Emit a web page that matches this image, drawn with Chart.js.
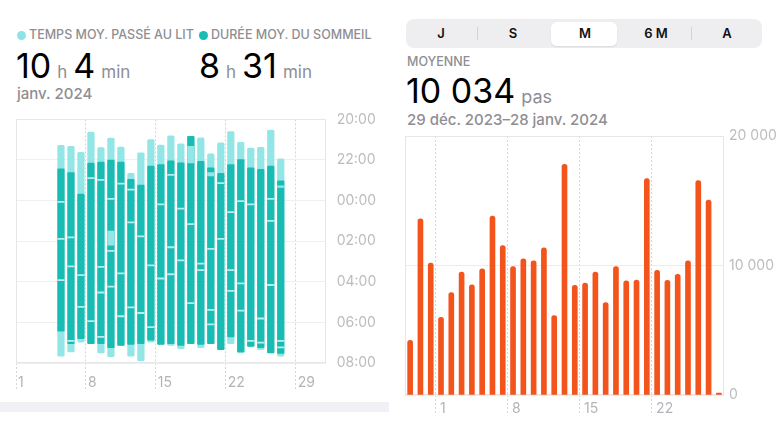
<!DOCTYPE html>
<html lang="fr">
<head>
<meta charset="utf-8">
<script src="https://cdn.jsdelivr.net/npm/chart.js@4.4.1/dist/chart.umd.min.js"></script>
<style>
  html, body { margin: 0; padding: 0; background: #fff; }
  body { width: 780px; height: 435px; position: relative; overflow: hidden; font-family: Inter, "Noto Sans", sans-serif; }
  .abs { position: absolute; white-space: nowrap; }
  .cap { font-size: 12.5px; font-weight: 500; color: #8e8e93; line-height: 14px; display: flex; align-items: center; }
  .dot { width: 9px; height: 9px; border-radius: 50%; margin-right: 3px; }
  .row { display: flex; align-items: baseline; line-height: 34px; }
  .num { font-size: 34px; color: #000; }
  .unit { font-size: 17px; color: #8e8e93; margin: 0 6px; }
  .sub { font-size: 15px; font-weight: 500; color: #8e8e93; line-height: 18px; }
  #seg { left: 406px; top: 19px; width: 356px; height: 29px; background: #eeeef0; border-radius: 8px; }
  #seg .sel { position: absolute; left: 145px; top: 2.5px; width: 66px; height: 24px; background: #fff; border-radius: 6px; box-shadow: 0 1px 2px rgba(0,0,0,0.08); }
  #seg .lab { position: absolute; top: 0; line-height: 29px; font-size: 13px; font-weight: 600; color: #111; transform: translateX(-50%); }
  #seg .sep { position: absolute; top: 8px; width: 1px; height: 13px; background: #d4d4d8; }
  canvas { position: absolute; }
</style>
</head>
<body>

<!-- left panel header -->
<div class="abs cap" style="left:17px; top:28px;"><span class="dot" style="background:#8ee3e6"></span>TEMPS MOY. PASSÉ AU LIT</div>
<div class="abs cap" style="left:199px; top:28px;"><span class="dot" style="background:#1bbcb3"></span>DURÉE MOY. DU SOMMEIL</div>
<div class="abs row" style="left:16px; top:49px;"><span class="num">10</span><span class="unit">h</span><span class="num">4</span><span class="unit">min</span></div>
<div class="abs row" style="left:199px; top:49px;"><span class="num">8</span><span class="unit">h</span><span class="num">31</span><span class="unit">min</span></div>
<div class="abs sub" style="left:17px; top:85px;">janv. 2024</div>
<div class="abs" style="left:0; top:402px; width:389px; height:10px; background:#f0f0f5;"></div>

<!-- right panel header -->
<div class="abs" id="seg">
  <div class="sel"></div>
  <div class="sep" style="left:71px"></div>
  <div class="sep" style="left:285px"></div>
  <div class="lab" style="left:35px">J</div>
  <div class="lab" style="left:107px">S</div>
  <div class="lab" style="left:179px">M</div>
  <div class="lab" style="left:250px">6 M</div>
  <div class="lab" style="left:321px">A</div>
</div>
<div class="abs cap" style="left:407px; top:55px;">MOYENNE</div>
<div class="abs row" style="left:406px; top:74px;"><span class="num">10 034</span><span class="unit" style="font-size:18px">pas</span></div>
<div class="abs sub" style="left:407px; top:111px;">29 déc. 2023–28 janv. 2024</div>

<canvas id="sleep" style="left:0; top:100px;"></canvas>
<canvas id="steps" style="left:390px; top:120px;"></canvas>

<script>
// ============================
// DATA : sommeil (janv. 2024)
// ============================
const sleepDays = ['1','2','3','4','5','6','7','8','9','10','11','12','13','14','15','16',
  '17','18','19','20','21','22','23','24','25','26','27','28','29','30','31'];
const sleepTickDays = ['1','8','15','22','29'];
const hourTicks = ['20:00','22:00','00:00','02:00','04:00','06:00','08:00'];

// hours after 20:00
const nights = ['5','6','7','8','9','10','11','12','13','14','15','16','17','18','19','20',
  '21','22','23','24','25','26','27'];
const bedStart = [1.28,1.33,1.62,0.63,1.39,0.92,1.36,2.66,1.65,1.0,1.26,0.81,1.2,0.84,0.91,1.69,1.15,0.6,1.13,1.41,1.38,0.52,1.94];
const bedEnd = [11.66,11.45,10.97,11.05,11.5,11.69,11.13,11.66,11.89,10.98,11.08,11.14,11.29,11.05,11.24,11.05,11.34,11.05,11.5,11.18,11.34,11.5,11.66];
const sleepStart = [2.43,2.62,3.68,2.15,2.1,2.01,2.1,2.95,3.24,2.3,2.22,2.04,2.14,0.84,2.06,2.38,2.66,2.22,1.98,2.38,2.46,2.3,3.03];
const sleepEnd = [10.43,11.05,10.8,11.05,11.05,11.24,11.13,11.08,11.05,10.88,11.08,11.05,11.13,11.05,11.08,11.05,11.34,10.72,11.45,11.18,11.24,11.5,11.53];
// short wake-ups (thin lines)
const wakeMarks = [
  [4.03,5.86,7.89],[5.78,7.21,10.88],[7.64,9.21],[2.87,9.91],[2.95,7.24,8.5,10.69],
  [3.89,6.45,8.21],[3.14,7.56,9.67],[3.43,5.05,9.23],[5.73,9.51],[7.16,10.2],
  [4.16,7.81],[2.7,6.27,7.6],[4.37,6.92],[5.13,9.02],[7.08,7.4],[6.35,9.35,10.07],
  [3.11,5.86],[4.54,7.4,8.42],[4.0,8.05,9.39],[4.16,10.88],[9.78,10.97],[3.89,4.97,8.13],[10.88,11.2]
];
// longer awake periods
const awakeNights = ['10','18','20','27'];
const awakeFrom = [5.5,1.33,2.62,3.27];
const awakeTo = [6.2,2.14,2.79,3.35];

// ============================
// DATA : pas
// ============================
const stepDays = ['29','30','31','1','2','3','4','5','6','7','8','9','10','11','12','13',
  '14','15','16','17','18','19','20','21','22','23','24','25','26','27','28'];
const stepTickDays = ['1','8','15','22'];
const steps = [4230,13600,10180,6000,7900,9490,8510,9740,13820,11540,9920,10510,10360,11360,6130,17820,
  8460,8640,9490,7130,9920,8820,8870,16720,9620,8850,9310,10360,16560,15050,150];
const stepTicks = ['0','10 000','20 000'];

// ============================
// HELPERS
// ============================
const framePlugin = {
  id: 'frame',
  beforeDatasetsDraw(chart) {
    const { ctx, chartArea: a } = chart;
    ctx.save();
    ctx.strokeStyle = '#e6e6e8';
    ctx.lineWidth = 1;
    ctx.strokeRect(Math.round(a.left) + 0.5, Math.round(a.top) + 0.5,
      Math.round(a.width) - 1, Math.round(a.height) - 1);
    ctx.restore();
  }
};

const tickFont = { family: 'Inter', size: 14 };
const lineFor = (labels, shown) => c => shown.includes(labels[c.index]) ? '#d6d6da' : 'rgba(0,0,0,0)';

function sizeCanvas(id, w, h) {
  const el = document.getElementById(id);
  el.style.width = w + 'px';
  el.style.height = h + 'px';
  el.width = w;
  el.height = h;
  return el;
}

// ============================
// SLEEP CHART
// ============================
const marks = [];
wakeMarks.forEach((list, i) => list.forEach(t => marks.push({ x: nights[i], y: [t, t + 0.055] })));

const sleepEl = sizeCanvas('sleep', 390, 302);
new Chart(sleepEl, {
  type: 'bar',
  data: {
    labels: sleepDays,
    datasets: [
      {
        label: 'marks',
        data: marks,
        backgroundColor: '#b4efed',
        barThickness: 6.6, grouped: false, order: 0
      },
      {
        label: 'awake',
        data: awakeNights.map((d, i) => ({ x: d, y: [awakeFrom[i], awakeTo[i]] })),
        backgroundColor: '#93e6e6',
        barThickness: 6.6, grouped: false, order: 1
      },
      {
        label: 'sommeil',
        data: nights.map((d, i) => ({ x: d, y: [sleepStart[i], sleepEnd[i]] })),
        backgroundColor: '#19bcb2',
        barThickness: 6.6, grouped: false, order: 2,
        borderRadius: 1, borderSkipped: false
      },
      {
        label: 'au lit',
        data: nights.map((d, i) => ({ x: d, y: [bedStart[i], bedEnd[i]] })),
        backgroundColor: '#93e6e6',
        barThickness: 6.6, grouped: false, order: 3,
        borderRadius: 1.5, borderSkipped: false
      }
    ]
  },
  options: {
    responsive: false,
    animation: false,
    layout: { padding: { left: 16, top: 16, right: 0, bottom: 0 } },
    plugins: { legend: { display: false }, tooltip: { enabled: false } },
    scales: {
      x: {
        grid: {
          offset: true, color: lineFor(sleepDays, sleepTickDays), tickColor: lineFor(sleepDays, sleepTickDays),
          tickLength: 27, tickBorderDash: [2, 2]
        },
        border: { display: false, dash: [2, 2] },
        ticks: {
          autoSkip: false, maxRotation: 0, align: 'start', labelOffset: -3, padding: -16,
          color: '#b4b4b8', font: tickFont,
          callback: (v, i) => sleepTickDays.includes(sleepDays[i]) ? sleepDays[i] : ''
        },
        afterFit: s => { s.height = 39; }
      },
      y: {
        position: 'right',
        reverse: true,
        min: 0, max: 12,
        grid: { color: '#efeff1', drawTicks: false },
        border: { display: false },
        ticks: {
          stepSize: 2, padding: 11, color: '#bcbcc0', font: tickFont,
          callback: v => hourTicks[v / 2]
        },
        afterFit: s => { s.width = 64.3; }
      }
    }
  },
  plugins: [framePlugin]
});

// ============================
// STEPS CHART
// ============================
const stepsEl = sizeCanvas('steps', 390, 305);
new Chart(stepsEl, {
  type: 'bar',
  data: {
    labels: stepDays,
    datasets: [{
      label: 'pas',
      data: steps,
      backgroundColor: '#f2541b',
      barThickness: 5,
      borderRadius: { topLeft: 2.5, topRight: 2.5 },
      borderSkipped: 'start'
    }]
  },
  options: {
    responsive: false,
    animation: false,
    layout: { padding: { left: 15, top: 16, right: 0, bottom: 0 } },
    plugins: { legend: { display: false }, tooltip: { enabled: false } },
    scales: {
      x: {
        grid: {
          offset: true, color: lineFor(stepDays, stepTickDays), tickColor: lineFor(stepDays, stepTickDays),
          tickLength: 20, tickBorderDash: [2, 2]
        },
        border: { display: false, dash: [2, 2] },
        ticks: {
          autoSkip: false, maxRotation: 0, align: 'start', labelOffset: -1, padding: -15,
          color: '#b4b4b8', font: tickFont,
          callback: (v, i) => stepTickDays.includes(stepDays[i]) ? stepDays[i] : ''
        },
        afterFit: s => { s.height = 30; }
      },
      y: {
        position: 'right',
        min: 0, max: 20000,
        grid: { color: '#ececee', drawTicks: false },
        border: { display: false },
        ticks: {
          stepSize: 10000, padding: 5, color: '#bcbcc0', font: tickFont,
          callback: v => stepTicks[v / 10000]
        },
        afterFit: s => { s.width = 56; }
      }
    }
  },
  plugins: [framePlugin]
});
</script>
</body>
</html>
